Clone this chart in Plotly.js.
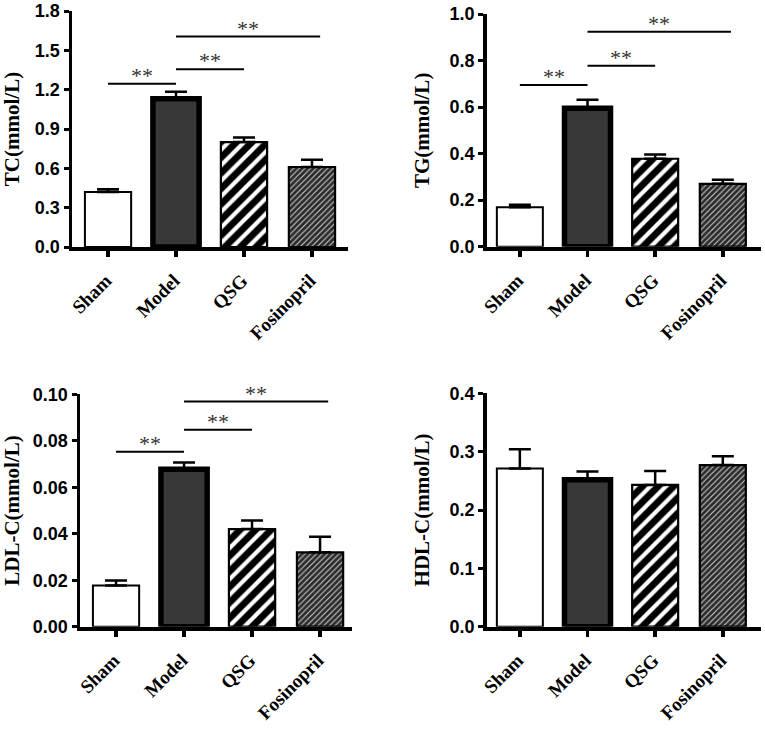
<!DOCTYPE html>
<html>
<head>
<meta charset="utf-8">
<script src="https://cdn.plot.ly/plotly-3.0.1.min.js"></script>
<style>html,body{margin:0;padding:0;background:#fff;}#chart{width:765px;height:731px;}</style>
</head>
<body>
<div id="chart"></div>
<script>
const categories = ['Sham', 'Model', 'QSG', 'Fosinopril'];

const tcValues = [0.42, 1.13, 0.80, 0.61];
const tcErrors = [0.02, 0.055, 0.035, 0.055];
const tgValues = [0.17, 0.595, 0.378, 0.27];
const tgErrors = [0.01, 0.036, 0.018, 0.018];
const ldlValues = [0.0177, 0.0677, 0.042, 0.032];
const ldlErrors = [0.0022, 0.003, 0.0037, 0.0067];
const hdlValues = [0.271, 0.252, 0.243, 0.277];
const hdlErrors = [0.033, 0.014, 0.024, 0.015];

const panelTitles = ['TC(mmol/L)', 'TG(mmol/L)', 'LDL-C(mmol/L)', 'HDL-C(mmol/L)'];
const yMax = [1.8, 1.0, 0.1, 0.4];
const yStep = [0.3, 0.2, 0.02, 0.1];
const yFormat = ['.1f', '.1f', '.2f', '.1f'];

// significance comparisons: [from index, to index] and bracket level per panel
const sigPairs = [[0, 1], [1, 2], [1, 3]];
const tcSigLevels = [1.245, 1.355, 1.605];
const tgSigLevels = [0.695, 0.778, 0.924];
const ldlSigLevels = [0.0753, 0.0847, 0.0969];
const sigLabel = '**';

const panels = [
  {v: tcValues, e: tcErrors, sig: tcSigLevels},
  {v: tgValues, e: tgErrors, sig: tgSigLevels},
  {v: ldlValues, e: ldlErrors, sig: ldlSigLevels},
  {v: hdlValues, e: hdlErrors, sig: null}
];

const W = 765, H = 731;
const boxes = [
  {x0: 72, x1: 348, y0: 11, y1: 247, r: [-0.53, 3.53]},
  {x0: 486.7, x1: 760.7, y0: 14, y1: 246.7, r: [-0.49, 3.56]},
  {x0: 80, x1: 352, y0: 394.3, y1: 626.7, r: [-0.53, 3.47]},
  {x0: 486.7, x1: 760.7, y0: 393.3, y1: 626.7, r: [-0.49, 3.56]}
];

// per-group bar styles
const groupStyles = [
  {color: '#ffffff', line: 2, pattern: null},
  {color: '#383838', line: 5.5, pattern: null},
  {color: '#ffffff', line: 2.2, pattern: {shape: '/', fgcolor: '#000000', fgopacity: 1, size: 11, solidity: 0.62, fillmode: 'overlay'}},
  {color: '#2a2a2a', line: 2.2, pattern: {shape: '/', fgcolor: '#cccccc', fgopacity: 1, size: 4, solidity: 0.28, fillmode: 'overlay'}}
];

const traces = [];
const layout = {
  width: W, height: H,
  margin: {l: 0, r: 0, t: 0, b: 0},
  paper_bgcolor: '#fff', plot_bgcolor: '#fff',
  showlegend: false,
  barmode: 'overlay',
  shapes: [], annotations: []
};

panels.forEach((p, i) => {
  const n = i === 0 ? '' : String(i + 1);
  const xa = 'x' + n, ya = 'y' + n;
  categories.forEach((c, j) => {
    const s = groupStyles[j];
    const marker = {color: s.color, opacity: 1, line: {color: '#000', width: s.line}};
    if (s.pattern) marker.pattern = s.pattern;
    traces.push({
      type: 'bar', x: [c], y: [p.v[j]], xaxis: xa, yaxis: ya,
      width: 0.68, marker: marker,
      error_y: {type: 'data', array: [p.e[j]], arrayminus: [0], symmetric: false,
        color: '#000', thickness: 2.5, width: 11},
      hoverinfo: 'none'
    });
  });
  const b = boxes[i];
  layout['xaxis' + n] = {
    domain: [b.x0 / W, b.x1 / W], anchor: ya, type: 'category',
    categoryorder: 'array', categoryarray: categories,
    range: b.r, showline: true, linewidth: 4, linecolor: '#000',
    ticks: 'outside', ticklen: 6, tickwidth: 3.5, tickcolor: '#000',
    showgrid: false, zeroline: false, tickangle: -45,
    ticklabelstandoff: 5, ticklabelshift: -2,
    tickfont: {family: 'Liberation Serif', size: 19, color: '#000', weight: 'bold'}
  };
  layout['yaxis' + n] = {
    domain: [1 - b.y1 / H, 1 - b.y0 / H], anchor: xa,
    range: [0, yMax[i]], dtick: yStep[i], tick0: 0, tickformat: yFormat[i],
    showline: true, linewidth: 3.5, linecolor: '#000',
    ticks: 'outside', ticklen: 5, tickwidth: 3, tickcolor: '#000',
    showgrid: false, zeroline: false,
    tickfont: {family: 'Liberation Sans', size: 18, color: '#000', weight: 'bold'},
    title: {text: panelTitles[i], standoff: 15,
      font: {family: 'Liberation Serif', size: 21, color: '#000', weight: 'bold'}}
  };
  if (p.sig) {
    sigPairs.forEach((pr, k) => {
      const x0 = pr[0], x1 = pr[1] + (k === 2 ? 0.12 : 0);
      layout.shapes.push({type: 'line', xref: xa, yref: ya,
        x0: x0, x1: x1, y0: p.sig[k], y1: p.sig[k],
        line: {color: '#000', width: 2}});
      layout.annotations.push({xref: xa, yref: ya, x: (x0 + x1) / 2, y: p.sig[k],
        text: sigLabel, showarrow: false, yanchor: 'bottom', yshift: -6,
        font: {family: 'Liberation Serif', size: 22, color: '#333'}});
    });
  }
});

Plotly.newPlot('chart', traces, layout, {staticPlot: true});
</script>
</body>
</html>
